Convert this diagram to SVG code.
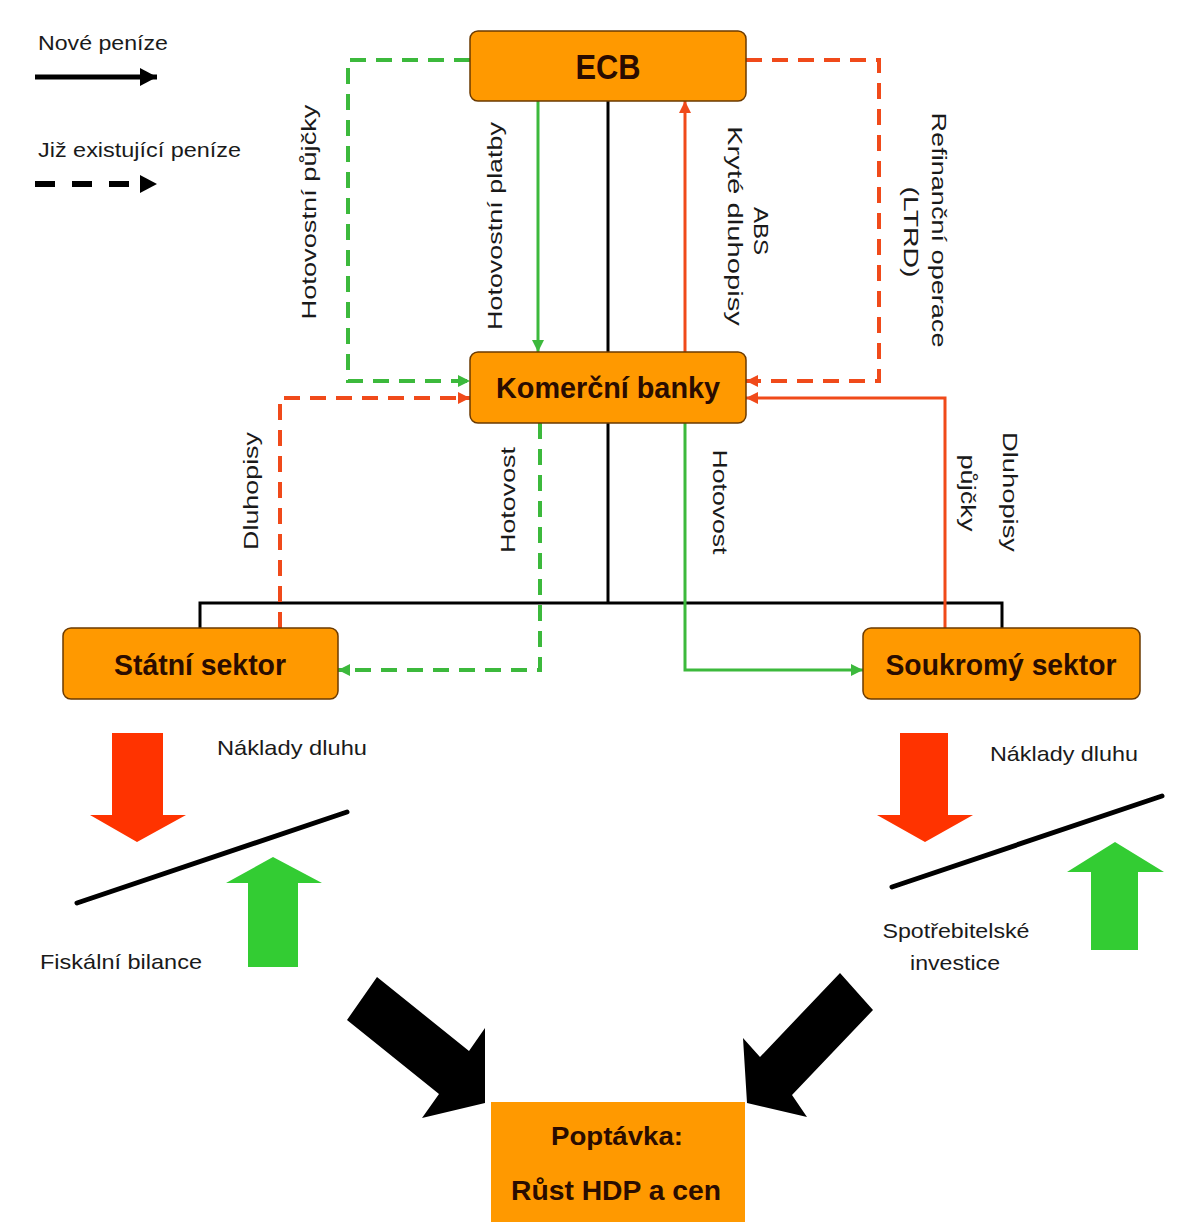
<svg xmlns="http://www.w3.org/2000/svg" width="1177" height="1232" viewBox="0 0 1177 1232">
<style>
.box{fill:#ff9900;stroke:#6b3a00;stroke-width:1.5}
.bt{font-family:"Liberation Sans",Arial,sans-serif;font-weight:bold;fill:#2a0c00;text-anchor:middle}
.lb{font-family:"Liberation Sans",Arial,sans-serif;font-size:21px;fill:#1a1a1a}
.lbm{font-family:"Liberation Sans",Arial,sans-serif;font-size:21px;fill:#1a1a1a;text-anchor:middle}
.blk{fill:none;stroke:#000;stroke-width:3}
.gs{fill:none;stroke:#3cb93c;stroke-width:3}
.gd{fill:none;stroke:#3cb93c;stroke-width:4;stroke-dasharray:16 10}
.rs{fill:none;stroke:#f04a1a;stroke-width:3}
.rd{fill:none;stroke:#f04a1a;stroke-width:4;stroke-dasharray:16 10}
</style>
<defs>
<marker id="ag" markerWidth="14" markerHeight="14" refX="12" refY="7" orient="auto" markerUnits="userSpaceOnUse"><path d="M0,1 L12,7 L0,13 z" fill="#3cb93c"/></marker>
<marker id="ar" markerWidth="14" markerHeight="14" refX="12" refY="7" orient="auto" markerUnits="userSpaceOnUse"><path d="M0,1 L12,7 L0,13 z" fill="#f04a1a"/></marker>
<marker id="ab" markerWidth="20" markerHeight="20" refX="17" refY="10" orient="auto" markerUnits="userSpaceOnUse"><path d="M0,1 L17,10 L0,19 z" fill="#000"/></marker>
</defs>
<rect width="1177" height="1232" fill="#ffffff"/>

<g id="legend">
<text class="lb" x="38" y="50" textLength="130" lengthAdjust="spacingAndGlyphs">Nové peníze</text>
<path d="M35,77 H157" stroke="#000" stroke-width="5" fill="none" marker-end="url(#ab)"/>
<text class="lb" x="38" y="157" textLength="203" lengthAdjust="spacingAndGlyphs">Již existující peníze</text>
<path d="M35,184 H141" stroke="#000" stroke-width="6" stroke-dasharray="20 17" fill="none"/>
<path d="M140,175 L157,184 L140,193 z" fill="#000"/>
</g>

<g id="connectors">
<path class="blk" d="M608,101 V352"/>
<path class="blk" d="M608,423 V603"/>
<path class="blk" d="M200,628 V603 H1002 V628"/>
<path class="gd" d="M470,60 H348 V381 H470" marker-end="url(#ag)"/>
<path class="gs" d="M538,101 V352" marker-end="url(#ag)"/>
<path class="rs" d="M685,352 V101" marker-end="url(#ar)"/>
<path class="rd" d="M746,60 H879 V381 H746" marker-end="url(#ar)"/>
<path class="rd" d="M280,628 V398 H470" marker-end="url(#ar)"/>
<path class="gd" d="M540,423 V670 H338" marker-end="url(#ag)"/>
<path class="gs" d="M685,423 V670 H863" marker-end="url(#ag)"/>
<path class="rs" d="M945,628 V398 H746" marker-end="url(#ar)"/>
</g>

<g id="connector-labels">
<text class="lbm" transform="translate(316,212) rotate(-90)" textLength="215" lengthAdjust="spacingAndGlyphs">Hotovostní půjčky</text>
<text class="lbm" transform="translate(502,226) rotate(-90)" textLength="208" lengthAdjust="spacingAndGlyphs">Hotovostní platby</text>
<text class="lbm" transform="translate(754,231) rotate(90)" textLength="48" lengthAdjust="spacingAndGlyphs">ABS</text>
<text class="lbm" transform="translate(728,226) rotate(90)" textLength="200" lengthAdjust="spacingAndGlyphs">Kryté dluhopisy</text>
<text class="lbm" transform="translate(932,230) rotate(90)" textLength="235" lengthAdjust="spacingAndGlyphs">Refinanční operace</text>
<text class="lbm" transform="translate(904,232) rotate(90)" textLength="91" lengthAdjust="spacingAndGlyphs">(LTRD)</text>
<text class="lbm" transform="translate(258,491) rotate(-90)" textLength="118" lengthAdjust="spacingAndGlyphs">Dluhopisy</text>
<text class="lbm" transform="translate(515,500) rotate(-90)" textLength="106" lengthAdjust="spacingAndGlyphs">Hotovost</text>
<text class="lbm" transform="translate(713,502) rotate(90)" textLength="105" lengthAdjust="spacingAndGlyphs">Hotovost</text>
<text class="lbm" transform="translate(1003,492) rotate(90)" textLength="120" lengthAdjust="spacingAndGlyphs">Dluhopisy</text>
<text class="lbm" transform="translate(961,493) rotate(90)" textLength="77" lengthAdjust="spacingAndGlyphs">půjčky</text>
</g>

<g id="ecb">
<rect class="box" x="470" y="31" width="276" height="70" rx="8"/>
<text class="bt" x="608" y="79" font-size="35" textLength="65" lengthAdjust="spacingAndGlyphs">ECB</text>
</g>
<g id="komercni-banky">
<rect class="box" x="470" y="352" width="276" height="71" rx="8"/>
<text class="bt" x="608" y="398" font-size="29" textLength="224" lengthAdjust="spacingAndGlyphs">Komerční banky</text>
</g>
<g id="statni-sektor">
<rect class="box" x="63" y="628" width="275" height="71" rx="8"/>
<text class="bt" x="200" y="675" font-size="29" textLength="172" lengthAdjust="spacingAndGlyphs">Státní sektor</text>
</g>
<g id="soukromy-sektor">
<rect class="box" x="863" y="628" width="277" height="71" rx="8"/>
<text class="bt" x="1001" y="675" font-size="29" textLength="231" lengthAdjust="spacingAndGlyphs">Soukromý sektor</text>
</g>

<g id="balance-left">
<path d="M112,733 H163 V815 H186 L137,842 L90,815 H112 z" fill="#ff3300"/>
<path d="M77,903 L347,812" stroke="#000" stroke-width="5" stroke-linecap="round"/>
<path d="M273,857 L322,883 H298 V967 H248 V883 H226 z" fill="#33cc33"/>
<text class="lb" x="217" y="755" textLength="150" lengthAdjust="spacingAndGlyphs">Náklady dluhu</text>
<text class="lb" x="40" y="969" textLength="162" lengthAdjust="spacingAndGlyphs">Fiskální bilance</text>
</g>

<g id="balance-right">
<path d="M900,733 H948 V815 H973 L925,842 L877,815 H900 z" fill="#ff3300"/>
<path d="M892,887 L1162,796" stroke="#000" stroke-width="5" stroke-linecap="round"/>
<path d="M1115,842 L1164,872 H1138 V950 H1091 V872 H1067 z" fill="#33cc33"/>
<text class="lb" x="990" y="761" textLength="148" lengthAdjust="spacingAndGlyphs">Náklady dluhu</text>
<text class="lbm" x="956" y="938" textLength="147" lengthAdjust="spacingAndGlyphs">Spotřebitelské</text>
<text class="lbm" x="955" y="970" textLength="90" lengthAdjust="spacingAndGlyphs">investice</text>
</g>

<g id="demand-arrows">
<polygon points="377,977 469,1051 485,1028 485,1103 422,1118 439,1094 347,1020" fill="#000"/>
<polygon points="840,973 760,1057 743,1038 747,1103 807,1117 792,1095 873,1010" fill="#000"/>
</g>

<g id="poptavka">
<rect x="491" y="1102" width="254" height="120" fill="#ff9900"/>
<text class="bt" x="617" y="1145" font-size="25" textLength="132" lengthAdjust="spacingAndGlyphs">Poptávka:</text>
<text class="bt" x="616" y="1200" font-size="27" textLength="210" lengthAdjust="spacingAndGlyphs">Růst HDP a cen</text>
</g>
</svg>
